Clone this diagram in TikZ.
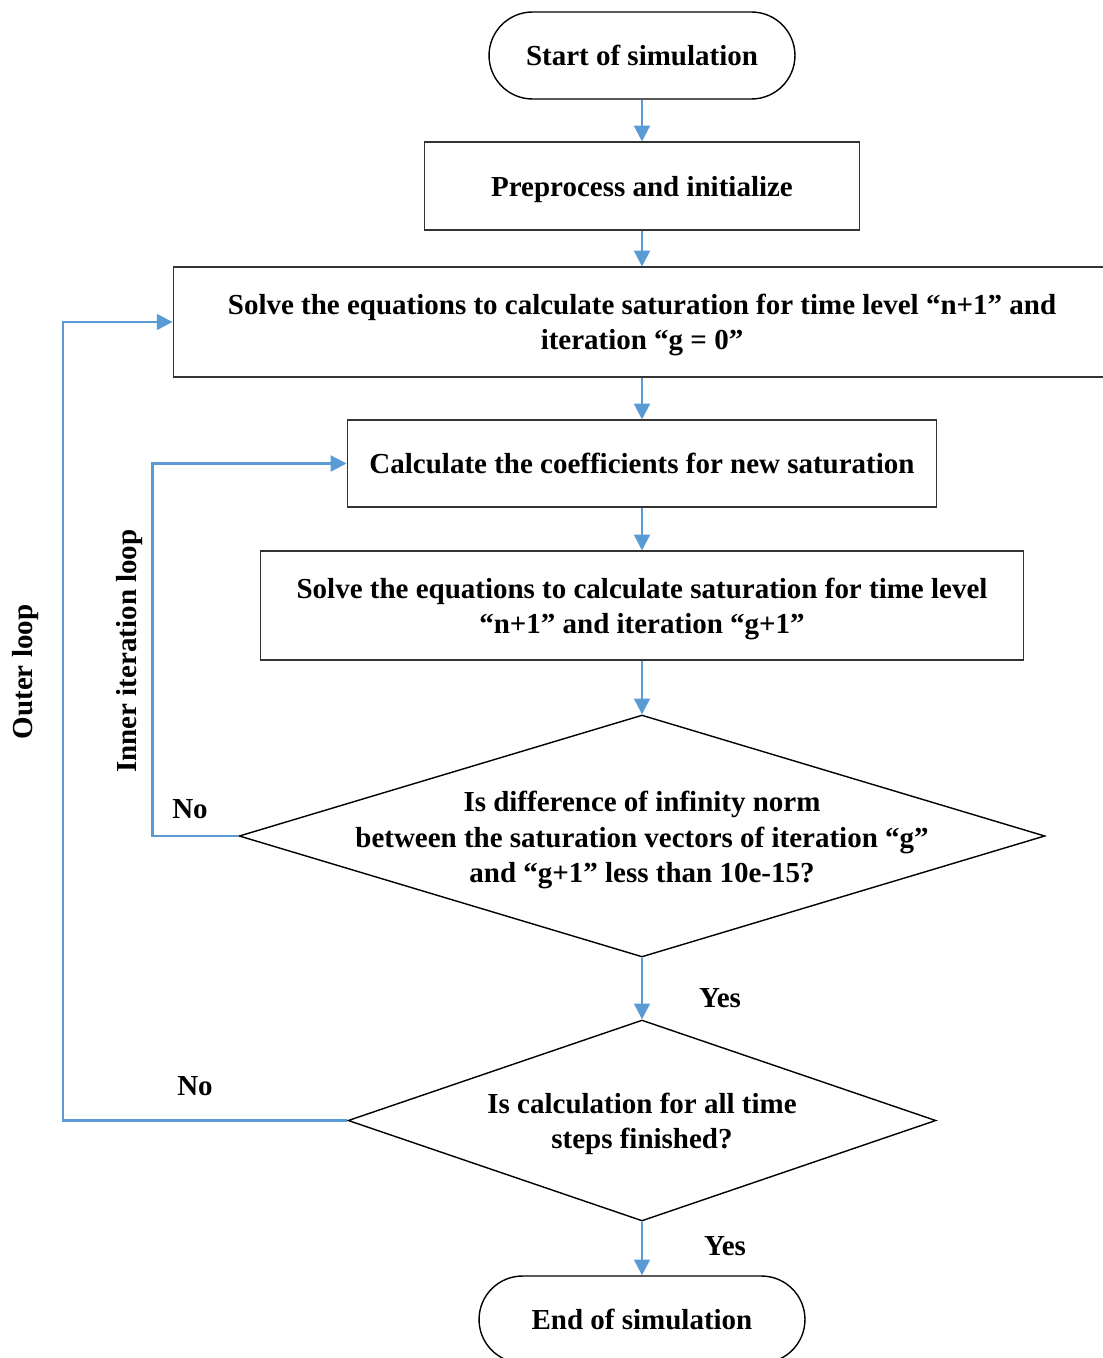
\documentclass[tikz,border=0pt]{standalone}
\usepackage{fontspec}
\setmainfont{Liberation Serif}
\usepackage{tikz}
\usetikzlibrary{shapes.geometric, positioning}
\usetikzlibrary{arrows.meta}
\definecolor{flowblue}{HTML}{5B9BD5}

\begin{document}
\begin{tikzpicture}[x=0.02cm, y=-0.02cm,
	every node/.style={font=\bfseries\fontsize{16.5}{20}\selectfont},
	box/.style={draw=black!80, line width=0.6pt, align=center, inner sep=0pt, text depth=0pt},
	term/.style={draw=black, line width=0.8pt, rounded corners=0.87cm, inner sep=0pt},
	decision/.style={diamond, draw=black, line width=0.8pt, inner sep=0pt},
	flow/.style={-{Triangle[length=9pt, width=9pt]}, draw=flowblue, line width=1.3pt}]
					\useasboundingbox (0,0) rectangle (1102,1358);
					
					% --- 主流程 ---
					\node[term, minimum width=6.12cm, minimum height=1.74cm] (start) at (642,55.5) {Start of simulation};
					\node[box, minimum width=8.72cm, minimum height=1.76cm] (prep) at (642,186) {Preprocess and initialize};
					\node[box, minimum width=18.76cm, minimum height=2.2cm] (solveA) at (642,322)
					{Solve the equations to calculate saturation for time level “n+1” and\\ iteration “g = 0”};
					\node[box, minimum width=11.8cm, minimum height=1.74cm] (coef) at (642,463.5) {Calculate the coefficients for new saturation};
					\node[box, minimum width=15.28cm, minimum height=2.18cm] (solveB) at (642,605.5)
					{Solve the equations to calculate saturation for time level\\ “n+1” and iteration “g+1”};
					
					% 判断框 (收敛 / 时间步)
					\node[decision, minimum width=16.12cm, minimum height=4.84cm] (conv) at (642,836) {};
					\node[align=center] (convtext) at (642,840)
					{Is difference of infinity norm\\ between the saturation vectors of iteration “g”\\ and “g+1” less than 10e-15?};
					\node[decision, minimum width=11.76cm, minimum height=4.02cm] (done) at (642,1120.5) {};
					\node[align=center] (donetext) at (642,1124) {Is calculation for all time\\ steps finished?};
					
					\node[term, minimum width=6.52cm, minimum height=1.74cm] (stop) at (642,1319.5) {End of simulation};
					
					% 连线
					\draw[flow] (start) -- (prep);
					\draw[flow] (prep) -- (solveA);
					\draw[flow] (solveA) -- (coef);
					\draw[flow] (coef) -- (solveB);
					\draw[flow] (solveB) -- (conv);
					\draw[flow] (conv) -- (done);
					\draw[flow] (done) -- (stop);
					
					% 内循环与外循环
					\draw[flow] (conv.west) -- ++(-86,0) |- (coef.west);
					\draw[flow] (done.west) -- ++(-284,0) |- (solveA.west);
					
					% 标注
					\node (noA) at (190,809) {No};
					\node (noB) at (195,1086) {No};
					\node (yesA) at (720,998) {Yes};
					\node (yesB) at (725,1246) {Yes};
					\node[rotate=90] (innerlbl) at (130,651) {Inner iteration loop};
					\node[rotate=90] (outerlbl) at (26,672) {Outer loop};
				\end{tikzpicture}
\end{document}
